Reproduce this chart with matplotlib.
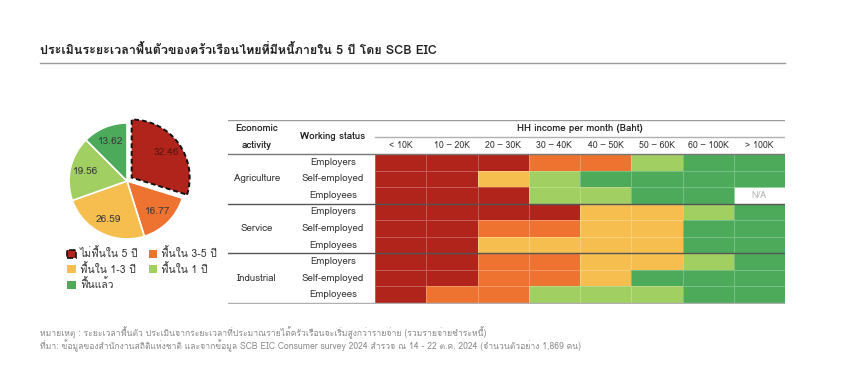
"""Recovery time of indebted Thai households (SCB EIC) - pie + heatmap table."""

import numpy as np
import matplotlib
matplotlib.use("Agg")
import matplotlib.pyplot as plt
from matplotlib import font_manager
from matplotlib.ft2font import FT2Font
from matplotlib.colors import ListedColormap
from matplotlib.patches import Patch

# ── data ─────────────────────────────────────────────────────────────────
pie_values = [32.46, 16.77, 26.59, 19.56, 13.62]
pie_labels = ["ไม่ฟื้นใน 5 ปี", "ฟื้นใน 3-5 ปี", "ฟื้นใน 1-3 ปี", "ฟื้นใน 1 ปี", "ฟื้นแล้ว"]

income_bins = ["< 10K", "10 – 20K", "20 – 30K", "30 – 40K", "40 – 50K",
               "50 – 60K", "60 – 100K", "> 100K"]
activities = ["Agriculture", "Service", "Industrial"]
statuses = ["Employers", "Self-employed", "Employees"]

# 0 = not within 5y, 1 = 3-5y, 2 = 1-3y, 3 = within 1y, 4 = recovered, -1 = N/A
agri_employers = [0, 0, 0, 1, 1, 3, 4, 4]
agri_self = [0, 0, 2, 3, 4, 4, 4, 4]
agri_employees = [0, 0, 0, 3, 3, 4, 4, -1]
serv_employers = [0, 0, 0, 0, 2, 2, 3, 4]
serv_self = [0, 0, 1, 1, 2, 2, 4, 4]
serv_employees = [0, 0, 2, 2, 2, 2, 4, 4]
ind_employers = [0, 0, 1, 1, 2, 2, 3, 4]
ind_self = [0, 0, 1, 1, 2, 4, 4, 4]
ind_employees = [0, 1, 1, 3, 3, 3, 4, 4]

COLORS = ["#B0241B", "#EE7330", "#F5BE4F", "#A2CF62", "#4CAA5A"]

TITLE = "ประเมินระยะเวลาฟื้นตัวของครัวเรือนไทยที่มีหนี้ภายใน 5 ปี โดย SCB EIC"
NOTE1 = ("หมายเหตุ : ระยะเวลาฟื้นตัว ประเมินจากระยะเวลาที่ประมาณรายได้ครัวเรือนจะเริ่มสูงกว่ารายจ่าย "
         "(รวมรายจ่ายชำระหนี้)")
NOTE2 = ("ที่มา: ข้อมูลของสำนักงานสถิติแห่งชาติ และจากข้อมูล SCB EIC Consumer survey 2024 "
         "สำรวจ ณ 14 - 22 ต.ค. 2024 (จำนวนตัวอย่าง 1,869 คน)")


def thai_fonts():
    found = []
    for f in font_manager.fontManager.ttflist:
        try:
            if 0x0E01 in FT2Font(f.fname).get_charmap():
                if f.name not in found:
                    found.append(f.name)
        except Exception:
            pass
    return found


fams = thai_fonts()
plt.rcParams["font.family"] = fams[:1] + ["DejaVu Sans"]

W, H = 850, 385


def px_axes(fig, x0, y0, x1, y1):
    return fig.add_axes([x0 / W, 1 - y1 / H, (x1 - x0) / W, (y1 - y0) / H])


fig = plt.figure(figsize=(W / 100, H / 100), dpi=100)
fig.patch.set_facecolor("white")

# ── title + rule ─────────────────────────────────────────────────────────
fig.text(40 / W, 1 - 50 / H, TITLE, fontsize=9, fontweight="bold",
         color="#222222", va="center", ha="left")
fig.add_artist(plt.Line2D([40 / W, 785 / W], [1 - 63 / H, 1 - 63 / H],
                          color="#9a9a9a", lw=1.0))

# ── pie ──────────────────────────────────────────────────────────────────
cx, cy, r = 127, 181, 58
pax = px_axes(fig, cx - 1.25 * r, cy - 1.25 * r, cx + 1.25 * r, cy + 1.25 * r)
total = sum(pie_values)
wedges, _, autotexts = pax.pie(
    pie_values, colors=COLORS, startangle=90, counterclock=False,
    explode=[0.1, 0, 0, 0, 0], pctdistance=0.74,
    autopct=lambda p: f"{p * total / 100:.2f}",
    wedgeprops=dict(edgecolor="white", linewidth=1.2),
    textprops=dict(fontsize=7.3, color="#3a3a3a"))
wedges[0].set_edgecolor("#111111")
wedges[0].set_linestyle((0, (2.5, 1.5)))
wedges[0].set_linewidth(1.4)
autotexts[0].set_color("#5a1610")
pax.set_xlim(-1.25, 1.25)
pax.set_ylim(-1.25, 1.25)
pax.set_aspect("equal")
pax.axis("off")

handles = [Patch(facecolor=c, edgecolor="none") for c in COLORS]
handles[0] = Patch(facecolor=COLORS[0], edgecolor="#111111", linestyle="--", lw=1.2)
# legend fills column by column: rows read 5y | 3-5y, 1-3y | 1y, recovered
order = [0, 2, 4, 1, 3]
fig.legend([handles[i] for i in order], [pie_labels[i] for i in order],
           ncol=2, loc="upper left", bbox_to_anchor=(58 / W, 1 - 238 / H),
           frameon=False, fontsize=7.5, handlelength=0.8, handleheight=0.8,
           handletextpad=0.4, columnspacing=1.0, labelspacing=0.35,
           labelcolor="#333333")

# ── heatmap table ────────────────────────────────────────────────────────
grid = np.array([agri_employers, agri_self, agri_employees,
                 serv_employers, serv_self, serv_employees,
                 ind_employers, ind_self, ind_employees], dtype=float)
masked = np.ma.masked_less(grid, 0)

x_left, x_heat, x_right = 228, 375, 785
y_top, y_heat, y_bot = 120, 154, 303
col_w = (x_right - x_heat) / len(income_bins)
row_h = (y_bot - y_heat) / grid.shape[0]
xmin = -(x_heat - x_left) / col_w
ymin = -(y_heat - y_top) / row_h

tax = px_axes(fig, x_left, y_top, x_right, y_bot + 1)
tax.pcolormesh(np.arange(len(income_bins) + 1), np.arange(grid.shape[0] + 1), masked,
               cmap=ListedColormap(COLORS), vmin=-0.5, vmax=4.5,
               edgecolors=(1, 1, 1, 0.25), linewidth=0.5)
tax.set_xlim(xmin, len(income_bins))
tax.set_ylim(grid.shape[0] + 0.06, ymin)
tax.axis("off")

for i, j in zip(*np.where(grid < 0)):
    tax.text(j + 0.5, i + 0.5, "N/A", ha="center", va="center",
             fontsize=6.5, color="#b5b5b5")

# rules
tax.axhline(ymin + 0.03, color="#9a9a9a", lw=1.0)
tax.plot([0, len(income_bins)], [-1.03, -1.03], color="#b0b0b0", lw=1.0)
tax.axhline(0, color="#777777", lw=1.0)
for g in (3, 6):
    tax.axhline(g, color="#555555", lw=1.0)
tax.axhline(grid.shape[0], color="#b0b0b0", lw=1.0)

# header
x_act = (257 - x_heat) / col_w
x_stat = (333 - x_heat) / col_w
tax.text(x_act, -1.55, "Economic", ha="center", va="center", fontsize=7,
         fontweight="bold", color="#222222")
tax.text(x_act, -0.5, "activity", ha="center", va="center", fontsize=7,
         fontweight="bold", color="#222222")
tax.text(x_stat, -1.03, "Working status", ha="center", va="center", fontsize=7,
         fontweight="bold", color="#222222")
tax.text(len(income_bins) / 2, -1.55, "HH income per month (Baht)", ha="center",
         va="center", fontsize=7, fontweight="bold", color="#222222")
for j, lab in enumerate(income_bins):
    tax.text(j + 0.5, -0.5, lab, ha="center", va="center", fontsize=6.3,
             color="#333333")

for g, act in enumerate(activities):
    tax.text(x_act, g * 3 + 1.5, act, ha="center", va="center", fontsize=7,
             color="#333333")
    for k, st in enumerate(statuses):
        tax.text(x_stat, g * 3 + k + 0.5, st, ha="center", va="center",
                 fontsize=7, color="#333333")

# ── notes ────────────────────────────────────────────────────────────────
fig.text(40 / W, 1 - 333 / H, NOTE1, fontsize=6.2, color="#8a8a8a", va="center")
fig.text(40 / W, 1 - 346 / H, NOTE2, fontsize=6.2, color="#8a8a8a", va="center")

fig.savefig("out.png", dpi=100, facecolor="white")
